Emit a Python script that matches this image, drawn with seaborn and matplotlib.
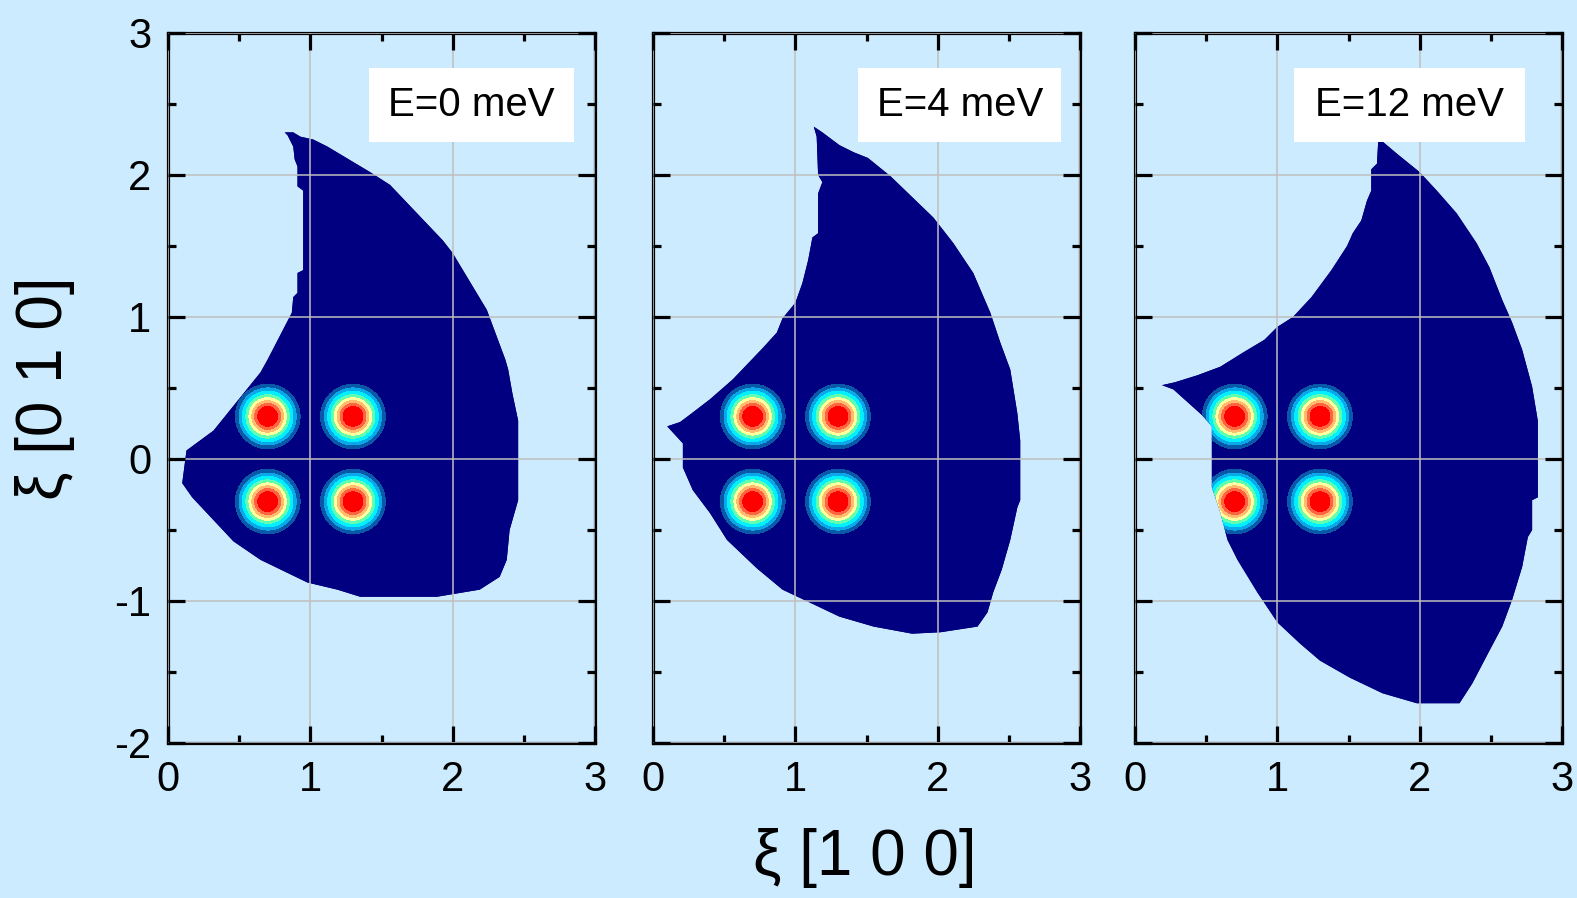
import numpy as np
import matplotlib
matplotlib.use("Agg")
import matplotlib.pyplot as plt
from matplotlib.colors import ListedColormap, BoundaryNorm
from matplotlib.patches import Polygon, Rectangle
from matplotlib.ticker import MultipleLocator
import seaborn as sns

# ---- data -------------------------------------------------------------
energies = ["E=0 meV", "E=4 meV", "E=12 meV"]

# magnetic peak positions (r.l.u.) and width
peak_x = [0.7, 1.3, 0.7, 1.3]
peak_y = [0.3, 0.3, -0.3, -0.3]
peak_sigma = 0.11

# detector coverage outlines for each energy transfer
cov0_x = [0.82, 0.88, 0.93, 1.02, 1.12, 1.42, 1.56, 1.93, 2.00, 2.24, 2.37, 2.39, 2.42, 2.46,
          2.46, 2.40, 2.38, 2.33, 2.19, 1.89, 1.35, 1.19, 0.98, 0.65, 0.46, 0.17, 0.10, 0.13,
          0.32, 0.65, 0.70, 0.87, 0.88, 0.91, 0.91, 0.95, 0.95, 0.91, 0.91, 0.89, 0.88, 0.84]
cov0_y = [2.30, 2.30, 2.27, 2.25, 2.20, 2.02, 1.93, 1.54, 1.45, 1.05, 0.70, 0.63, 0.46, 0.27,
          -0.29, -0.50, -0.71, -0.83, -0.92, -0.97, -0.97, -0.92, -0.87, -0.71, -0.58, -0.27, -0.17, 0.06,
          0.20, 0.61, 0.70, 1.03, 1.14, 1.17, 1.31, 1.33, 1.89, 1.92, 2.06, 2.11, 2.20, 2.28]

cov4_x = [1.13, 1.19, 1.31, 1.41, 1.51, 1.67, 1.97, 2.11, 2.25, 2.37, 2.44, 2.51, 2.56, 2.58,
          2.58, 2.56, 2.51, 2.45, 2.39, 2.35, 2.28, 2.02, 1.82, 1.55, 1.31, 1.10, 0.91, 0.73,
          0.52, 0.40, 0.28, 0.21, 0.21, 0.10, 0.19, 0.27, 0.40, 0.56, 0.77, 0.87, 0.91, 1.00,
          1.05, 1.09, 1.12, 1.16, 1.16, 1.19, 1.16, 1.15]
cov4_y = [2.34, 2.30, 2.21, 2.16, 2.12, 1.99, 1.70, 1.52, 1.31, 1.03, 0.82, 0.63, 0.32, 0.13,
          -0.29, -0.34, -0.57, -0.78, -0.94, -1.08, -1.18, -1.22, -1.23, -1.18, -1.11, -1.01, -0.92, -0.77,
          -0.57, -0.38, -0.22, -0.06, 0.11, 0.23, 0.26, 0.32, 0.42, 0.56, 0.78, 0.89, 0.99, 1.10,
          1.24, 1.40, 1.56, 1.59, 1.87, 1.95, 2.00, 2.27]

cov12_x = [1.71, 1.84, 2.00, 2.12, 2.26, 2.40, 2.49, 2.58, 2.65, 2.72, 2.79, 2.83, 2.83, 2.79,
           2.79, 2.76, 2.72, 2.65, 2.58, 2.49, 2.37, 2.28, 1.98, 1.74, 1.51, 1.30, 1.16, 1.00,
           0.86, 0.72, 0.65, 0.60, 0.54, 0.54, 0.47, 0.27, 0.19, 0.28, 0.44, 0.60, 0.76, 0.91,
           1.00, 1.11, 1.24, 1.38, 1.49, 1.53, 1.59, 1.63, 1.66, 1.66, 1.70]
cov12_y = [2.26, 2.15, 2.02, 1.89, 1.73, 1.52, 1.35, 1.12, 0.96, 0.77, 0.51, 0.27, -0.27, -0.29,
           -0.50, -0.55, -0.76, -0.99, -1.18, -1.35, -1.58, -1.72, -1.72, -1.65, -1.54, -1.42, -1.30, -1.15,
           -0.94, -0.71, -0.57, -0.38, -0.20, 0.23, 0.31, 0.49, 0.52, 0.54, 0.59, 0.65, 0.75, 0.84,
           0.93, 1.00, 1.14, 1.33, 1.50, 1.59, 1.68, 1.82, 1.89, 2.04, 2.08]

coverage = [(cov0_x, cov0_y), (cov4_x, cov4_y), (cov12_x, cov12_y)]

x_ticks = [0, 1, 2, 3]
y_ticks = [-2, -1, 0, 1, 2, 3]

# ---- style ------------------------------------------------------------
BG = "#CCEBFF"
NAVY = "#000080"
sns.set_theme(style="ticks", rc={
    "figure.facecolor": BG,
    "axes.facecolor": BG,
    "axes.edgecolor": "black",
    "axes.linewidth": 2.3,
    "xtick.direction": "in",
    "ytick.direction": "in",
    "xtick.top": True,
    "ytick.right": True,
    "xtick.color": "black",
    "ytick.color": "black",
    "text.color": "black",
    "axes.unicode_minus": False,
})
plt.rcParams["font.family"] = ["Liberation Sans", "DejaVu Sans"]

band_colors = [NAVY, "#0a58a8", "#0aa8e8", "#00f0ff", "#60ffb0",
               "#ffffa0", "#ffbc70", "#ff6440", "#ff0000"]
band_levels = [-1, 0.12, 0.19, 0.27, 0.38, 0.49, 0.60, 0.71, 0.82, 2]
cmap = ListedColormap(band_colors)
norm = BoundaryNorm(band_levels, cmap.N)

gx = np.linspace(0, 3, 301)
gy = np.linspace(-2, 3, 501)
GX, GY = np.meshgrid(gx, gy)
intensity = np.zeros_like(GX)
for px, py in zip(peak_x, peak_y):
    intensity += np.exp(-((GX - px) ** 2 + (GY - py) ** 2) / (2 * peak_sigma ** 2))

fig = plt.figure(figsize=(15.77, 8.98), dpi=100)
W, H = 1577, 898
lefts = [168, 653, 1135]
box_x = [(1.41, 1.44), (1.44, 1.43), (1.12, 1.62)]  # (left, width) of label boxes

for i, (left, (cx, cy), label) in enumerate(zip(lefts, coverage, energies)):
    ax = fig.add_axes([left / W, 1 - 743 / H, 427 / W, 710 / H])
    ax.set_xlim(0, 3)
    ax.set_ylim(-2, 3)

    region = Polygon(np.column_stack([cx, cy]), closed=True, facecolor=NAVY,
                     edgecolor="none", zorder=1)
    ax.add_patch(region)
    cs = ax.contourf(GX, GY, intensity, levels=band_levels, cmap=cmap, norm=norm, zorder=2)
    cs.set_clip_path(region)

    ax.set_xticks(x_ticks)
    ax.set_yticks(y_ticks)
    ax.xaxis.set_minor_locator(MultipleLocator(0.5))
    ax.yaxis.set_minor_locator(MultipleLocator(0.5))
    ax.grid(True, which="major", color="#bfbfbf", linewidth=1.1, zorder=3)
    ax.set_axisbelow(False)
    ax.tick_params(which="major", length=12, width=2.3, labelsize=30, pad=12)
    ax.tick_params(which="minor", length=6, width=2.3)
    if i > 0:
        ax.tick_params(axis="y", labelleft=False)

    bx, bw = box_x[i]
    ax.add_patch(Rectangle((bx, 2.23), bw, 0.52, facecolor="white", edgecolor="none", zorder=4))
    ax.text(bx + bw / 2, 2.49, label, ha="center", va="center", fontsize=29, zorder=5)

fig.text(865 / W, 1 - 858 / H, "ξ [1 0 0]", ha="center", va="center", fontsize=46)
fig.text(45 / W, 1 - 388 / H, "ξ [0 1 0]", ha="center", va="center", fontsize=46, rotation=90)

fig.savefig("out.png", dpi=100, facecolor=BG)
